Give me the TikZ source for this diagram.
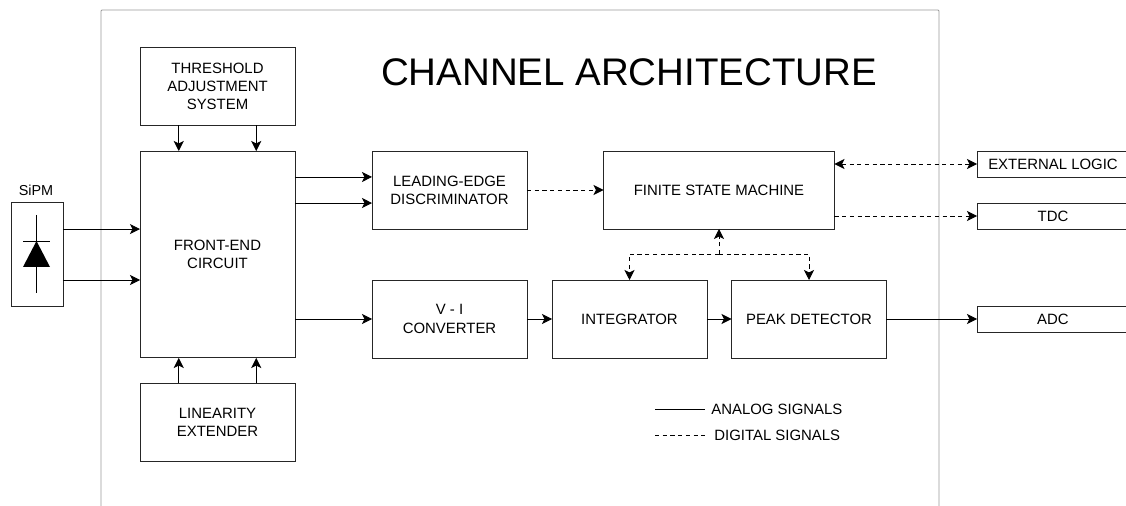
\documentclass[tikz,border=0pt]{standalone}
\usepackage{fontspec}
\setmainfont{Liberation Sans}
\usepackage{tikz}
\usetikzlibrary{arrows.meta}
\usetikzlibrary{calc}
\tikzset{>={Stealth[length=5.7pt,width=5.7pt,inset=1.4pt]}}
\tikzset{
    block/.style={
        draw=black!85,
        line width=0.55pt,
        outer sep=0pt,
        inner sep=0pt,
        align=center,
        font=\fontsize{8.5}{10.4}\selectfont,
        minimum width=3.1cm,
        minimum height=1.56cm,
    },
    port/.style={
        block,
        minimum width=3.04cm,
        minimum height=0.52cm,
    },
    analog/.style={line width=0.5pt, ->},
    digital/.style={line width=0.5pt, dash pattern=on 2.4pt off 2pt, ->},
    legendtext/.style={
        anchor=west,
        inner ysep=0pt,
        font=\fontsize{8.5}{10.4}\selectfont,
    },
}

\begin{document}
\begin{tikzpicture}[x=0.02cm,y=-0.02cm]
        \useasboundingbox (0,0) rectangle (1126,506);

        % chip outline
        \draw[
            line width=0.5pt,
            draw=black!40,
            rounded corners=0.02cm,
        ] (101,506) -- (101,10) -- (939,10) -- (939,506);

        \node[font=\fontsize{21.9}{26}\selectfont] (title) at (629,72) {CHANNEL ARCHITECTURE};

        % channel blocks
        \node[block] (threshold) at (217.5,86.5) {THRESHOLD\\ADJUSTMENT\\SYSTEM};
        \node[block, minimum height=4.14cm] (frontend) at (217.5,254.5) {FRONT-END\\CIRCUIT};
        \node[block] (linearity) at (217.5,422) {LINEARITY\\EXTENDER};
        \node[block] (discriminator) at (449.5,190) {LEADING-EDGE\\DISCRIMINATOR};
        \node[block, minimum width=4.62cm] (fsm) at (719,190) {FINITE STATE MACHINE};
        \node[block] (converter) at (449.5,319) {V - I\\CONVERTER};
        \node[block] (integrator) at (629.5,319) {INTEGRATOR};
        \node[block] (peak) at (809,319) {PEAK DETECTOR};

        % outside the chip
        \node[port] (logic) at (1053,164) {EXTERNAL LOGIC};
        \node[port] (tdc) at (1053,216) {TDC};
        \node[port] (adc) at (1053,319) {ADC};

        % sensor with diode
        \node[block, minimum width=1.04cm, minimum height=2.08cm] (sipm) at (37,254) {};
        \node[font=\fontsize{8.2}{10.3}\selectfont] (sipmlabel) at (36,190) {SiPM};
        \coordinate (diodetop) at (36.5,215);
        \coordinate (diodebottom) at (36.5,293);
        \coordinate (diodeapex) at (36.5,241);
        \draw[line width=0.5pt] (diodetop) -- (diodebottom);
        \draw[line width=0.5pt] (23,241) -- (50,241);
        \fill[black] (diodeapex) -- (50,267) -- (23,267) -- cycle;

        % analog signals
        \draw[analog] ($(sipm.north east)!.26!(sipm.south east)$) coordinate (sipmtop) -- (sipmtop -| frontend.west);
        \draw[analog] ($(sipm.north east)!.75!(sipm.south east)$) coordinate (sipmlow) -- (sipmlow -| frontend.west);
        \draw[analog] ($(threshold.south west)!.25!(threshold.south east)$) coordinate (thleft) -- (thleft |- frontend.north);
        \draw[analog] ($(threshold.south west)!.75!(threshold.south east)$) coordinate (thright) -- (thright |- frontend.north);
        \draw[analog] ($(linearity.north west)!.25!(linearity.north east)$) coordinate (lileft) -- (lileft |- frontend.south);
        \draw[analog] ($(linearity.north west)!.75!(linearity.north east)$) coordinate (liright) -- (liright |- frontend.south);
        \coordinate (discone) at ($(discriminator.north west)!.333!(discriminator.south west)$);
        \coordinate (disctwo) at ($(discriminator.north west)!.667!(discriminator.south west)$);
        \draw[analog] (discone -| frontend.east) -- (discone);
        \draw[analog] (disctwo -| frontend.east) -- (disctwo);
        \draw[analog] (frontend.east |- converter) -- (converter.west);
        \draw[analog] (converter) -- (integrator);
        \draw[analog] (integrator) -- (peak);
        \draw[analog] (peak) -- (adc);

        % digital signals
        \draw[digital] (discriminator) -- (fsm);
        \draw[digital, <->] (fsm.east |- logic) -- (logic.west);
        \draw[digital] (fsm.east |- tdc) -- (tdc.west);
        \coordinate (split) at ($(fsm.south)+(0,25)$);
        \draw[digital] (split) -- (fsm.south);
        \draw[digital] (split) -| (integrator.north);
        \draw[digital] (split) -| (peak.north);

        % legend
        \coordinate (analogstart) at (655,409);
        \coordinate (digitalstart) at (655,435);
        \node[legendtext, inner xsep=3.4pt] (analoglabel) at (705,409.5) {ANALOG SIGNALS};
        \node[legendtext, inner xsep=5.1pt] (digitallabel) at (705,435.5) {DIGITAL SIGNALS};
        \draw[line width=0.5pt] (analogstart) -- (analogstart -| analoglabel.west);
        \draw[line width=0.5pt, dash pattern=on 2.4pt off 2pt] (digitalstart) -- (digitalstart -| digitallabel.west);
    \end{tikzpicture}
\end{document}
